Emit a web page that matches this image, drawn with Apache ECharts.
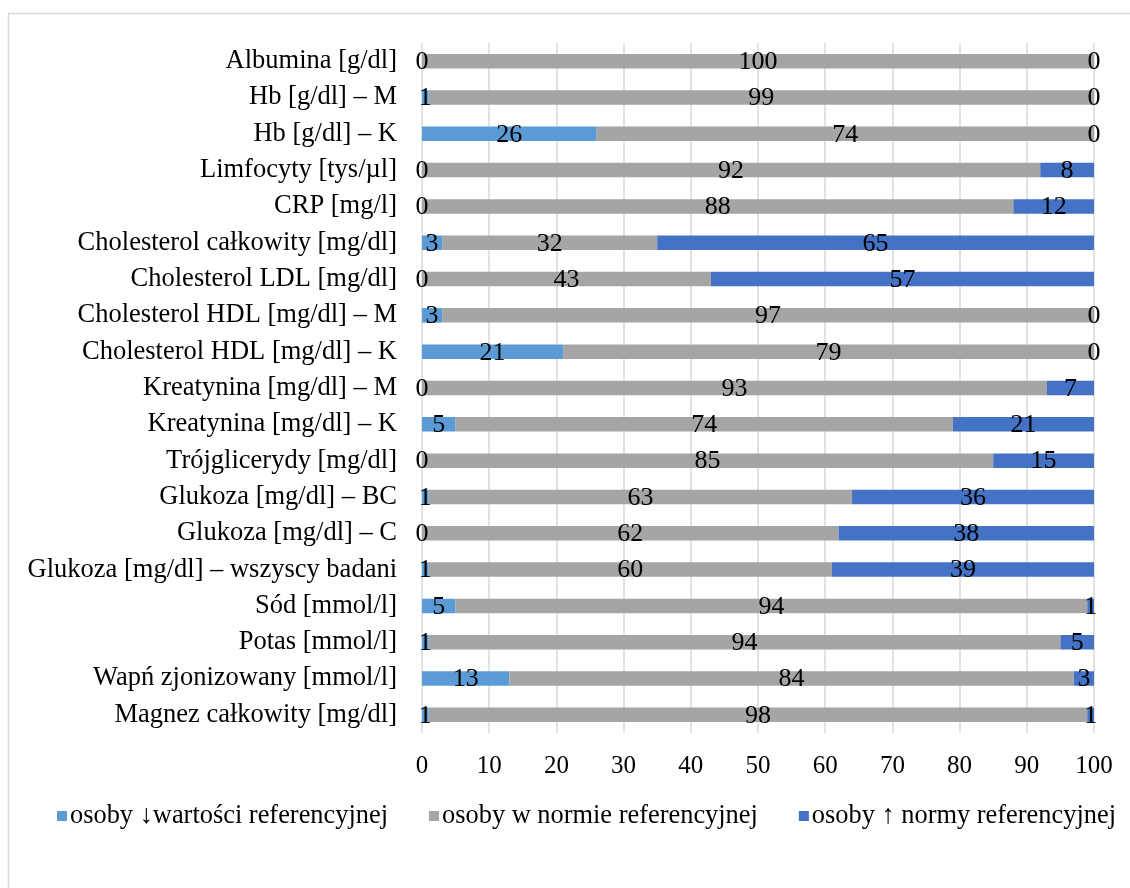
<!DOCTYPE html>
<html>
<head>
<meta charset="utf-8">
<script src="https://cdn.jsdelivr.net/npm/echarts@6/dist/echarts.min.js"></script>
<style>
  html, body { margin: 0; padding: 0; background: #fff; }
  #chart { width: 1130px; height: 888px; }
</style>
</head>
<body>
<div id="chart"></div>
<script>
// Laboratory parameters, listed top to bottom
const categories = [
  'Albumina [g/dl]',
  'Hb [g/dl] – M',
  'Hb [g/dl] – K',
  'Limfocyty [tys/µl]',
  'CRP [mg/l]',
  'Cholesterol całkowity [mg/dl]',
  'Cholesterol LDL [mg/dl]',
  'Cholesterol HDL [mg/dl] – M',
  'Cholesterol HDL [mg/dl] – K',
  'Kreatynina [mg/dl] – M',
  'Kreatynina [mg/dl] – K',
  'Trójglicerydy [mg/dl]',
  'Glukoza [mg/dl] – BC',
  'Glukoza [mg/dl] – C',
  'Glukoza [mg/dl] – wszyscy badani',
  'Sód [mmol/l]',
  'Potas [mmol/l]',
  'Wapń zjonizowany [mmol/l]',
  'Magnez całkowity [mg/dl]'
];

// Percentage of people below / within / above the reference range
const belowRef = [0, 1, 26, 0, 0, 3, 0, 3, 21, 0, 5, 0, 1, 0, 1, 5, 1, 13, 1];
const withinRef = [100, 99, 74, 92, 88, 32, 43, 97, 79, 93, 74, 85, 63, 62, 60, 94, 94, 84, 98];
const aboveRef = [0, 0, 0, 8, 12, 65, 57, 0, 0, 7, 21, 15, 36, 38, 39, 1, 5, 3, 1];

const seriesNames = [
  'osoby ↓wartości referencyjnej',
  'osoby w normie referencyjnej',
  'osoby ↑ normy referencyjnej'
];
const seriesColors = ['#5b9bd5', '#a5a5a5', '#4472c4'];

const FONT = '"Liberation Serif", "Times New Roman", serif';

function barSeries(name, data, color) {
  return {
    name: name,
    type: 'bar',
    stack: 'total',
    data: data,
    barWidth: 14.5,
    itemStyle: { color: color },
    label: {
      show: true,
      position: 'inside',
      color: '#000',
      fontFamily: FONT,
      fontSize: 26,
      offset: [0, 1]
    },
    emphasis: { disabled: true }
  };
}

const chart = echarts.init(document.getElementById('chart'), null, { renderer: 'canvas' });

chart.setOption({
  animation: false,
  backgroundColor: '#ffffff',
  graphic: [{
    type: 'rect',
    silent: true,
    shape: { x: 8.5, y: 13.5, width: 1200, height: 1000 },
    style: { fill: 'none', stroke: '#d9d9d9', lineWidth: 1.5 }
  }],
  legend: {
    data: seriesNames,
    left: 57,
    top: 803,
    width: 1073,
    padding: 0,
    itemWidth: 10,
    itemHeight: 10,
    itemGap: 41,
    icon: 'rect',
    textStyle: { fontFamily: FONT, fontSize: 26.4, color: '#000', padding: [0, 0, 0, -2] },
    selectedMode: false
  },
  grid: {
    left: 422,
    right: 36,
    top: 43,
    height: 690,
    containLabel: false
  },
  xAxis: {
    type: 'value',
    min: 0,
    max: 100,
    interval: 10,
    axisLine: { show: false },
    axisTick: { show: false },
    splitLine: { show: true, lineStyle: { color: '#d9d9d9', width: 1.5 } },
    axisLabel: { fontFamily: FONT, fontSize: 25, color: '#000', margin: 21 }
  },
  yAxis: {
    type: 'category',
    data: categories,
    inverse: true,
    axisLine: { show: false },
    axisTick: { show: false },
    axisLabel: { fontFamily: FONT, fontSize: 26.5, color: '#000', margin: 25 }
  },
  series: [
    barSeries(seriesNames[0], belowRef, seriesColors[0]),
    barSeries(seriesNames[1], withinRef, seriesColors[1]),
    barSeries(seriesNames[2], aboveRef, seriesColors[2])
  ]
});
</script>
</body>
</html>
